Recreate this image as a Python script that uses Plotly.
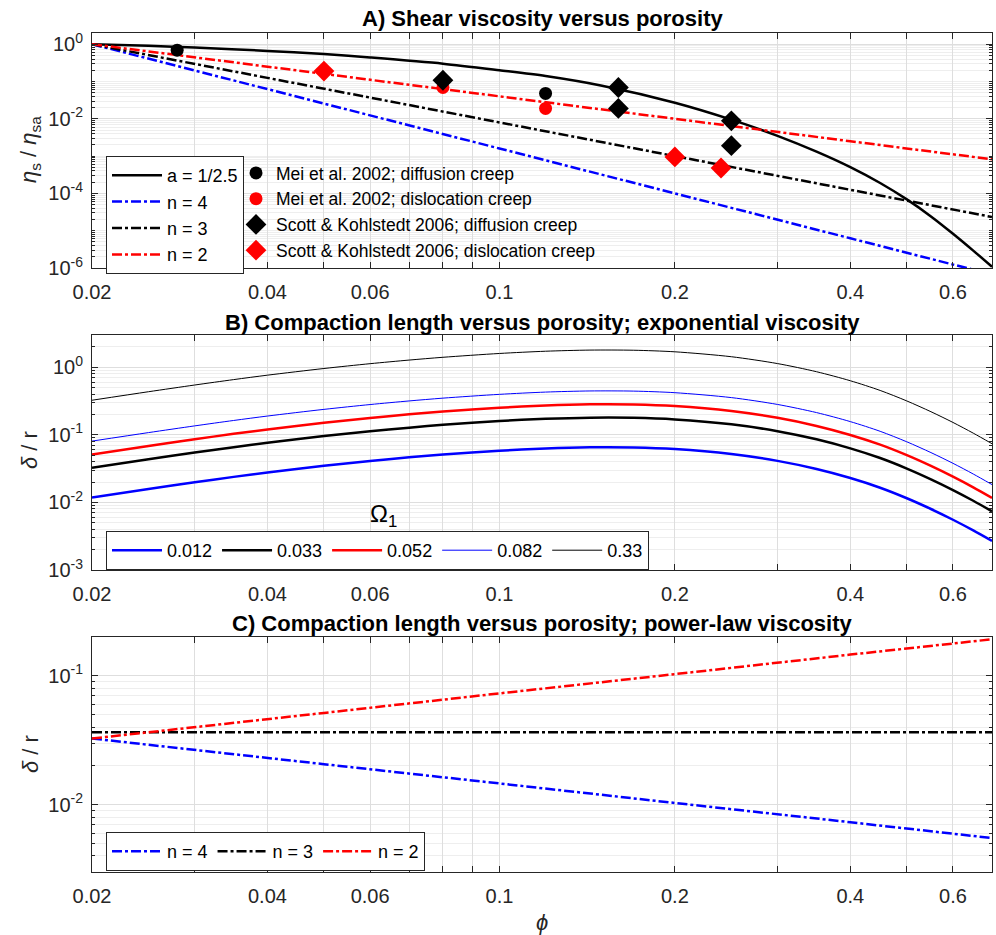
import math
import plotly.graph_objects as go

# ---------------- data ----------------
# Panel A: shear viscosity versus porosity
phi_exp = [0.02, 0.025, 0.03, 0.04, 0.05, 0.06, 0.08, 0.1, 0.12, 0.15, 0.2, 0.25,
           0.3, 0.35, 0.4, 0.45, 0.5, 0.55, 0.6, 0.65, 0.7]
eta_exp = [1.0, 0.905, 0.815, 0.66, 0.545, 0.44, 0.30, 0.20, 0.14, 0.077, 0.027, 0.0095,
           0.0035, 0.00132, 0.000506, 0.00019, 0.000069, 0.0000242, 0.0000083, 0.00000293,
           0.00000108]
phi_pow = [0.02, 0.04, 0.1, 0.2, 0.4, 0.7]
eta_n4 = [1.0, 0.0625, 0.0016, 0.0001, 0.00000625, 0.00000067]
eta_n3 = [1.0, 0.125, 0.008, 0.001, 0.000125, 0.0000233]
eta_n2 = [1.0, 0.25, 0.04, 0.01, 0.0025, 0.00082]

mei_diff_phi = [0.028, 0.12]
mei_diff_eta = [0.69, 0.048]
mei_disl_phi = [0.08, 0.12]
mei_disl_eta = [0.069, 0.019]
sk_diff_phi = [0.08, 0.16, 0.16, 0.25, 0.25]
sk_diff_eta = [0.108, 0.069, 0.019, 0.0088, 0.0019]
sk_disl_phi = [0.05, 0.2, 0.24]
sk_disl_eta = [0.19, 0.00095, 0.00048]

# Panel B: compaction length, exponential viscosity
phi_b = [0.02, 0.025, 0.03, 0.035, 0.04, 0.05, 0.06, 0.07, 0.08, 0.1, 0.12, 0.143,
         0.17, 0.2, 0.25, 0.3, 0.35, 0.4, 0.45, 0.5, 0.55, 0.6, 0.65, 0.7]
d_0012 = [0.01182, 0.01579, 0.01985, 0.02387, 0.02776, 0.03485, 0.04106, 0.04644, 0.05107,
          0.05813, 0.06277, 0.06524, 0.0649, 0.06151, 0.05202, 0.0412, 0.03122, 0.02296,
          0.0165, 0.01153, 0.00799, 0.00554, 0.00385, 0.00269]
d_0033 = [0.0325, 0.04343, 0.05458, 0.06564, 0.07633, 0.09583, 0.1129, 0.1277, 0.1404,
          0.1599, 0.1726, 0.1794, 0.1785, 0.1692, 0.1431, 0.1133, 0.08587, 0.06313,
          0.04538, 0.03171, 0.02198, 0.01525, 0.01059, 0.00739]
d_0052 = [0.05122, 0.06843, 0.08601, 0.1034, 0.1203, 0.151, 0.1779, 0.2012, 0.2213,
          0.2519, 0.272, 0.2827, 0.2812, 0.2666, 0.2254, 0.1785, 0.1353, 0.09948,
          0.0715, 0.04997, 0.03463, 0.02402, 0.01669, 0.01165]
d_0082 = [0.08077, 0.1079, 0.1356, 0.1631, 0.1897, 0.2381, 0.2806, 0.3173, 0.349,
          0.3972, 0.4289, 0.4458, 0.4435, 0.4203, 0.3555, 0.2815, 0.2134, 0.1569,
          0.1128, 0.0788, 0.05461, 0.03788, 0.02632, 0.01837]
d_033 = [0.325, 0.4343, 0.5458, 0.6564, 0.7633, 0.9583, 1.129, 1.277, 1.404,
         1.599, 1.726, 1.794, 1.785, 1.692, 1.431, 1.133, 0.8587, 0.6313,
         0.4538, 0.3171, 0.2198, 0.1525, 0.1059, 0.0739]

# Panel C: compaction length, power-law viscosity
phi_c = [0.02, 0.05, 0.1, 0.2, 0.4, 0.7]
c_n4 = [0.0326, 0.0206, 0.0146, 0.0103, 0.0073, 0.0055]
c_n3 = [0.0365, 0.0365, 0.0365, 0.0365, 0.0365, 0.0365]
c_n2 = [0.0326, 0.0515, 0.073, 0.103, 0.146, 0.192]

x_tickvals = [0.02, 0.03, 0.04, 0.05, 0.06, 0.07, 0.08, 0.09, 0.1, 0.2, 0.3, 0.4, 0.5, 0.6]
x_ticktext = ["0.02", "", "0.04", "", "0.06", "", "", "", "0.1", "0.2", "", "0.4", "", "0.6"]

# ---------------- figure ----------------
W, H = 996, 935
FONT = "Liberation Sans, Arial, Helvetica, sans-serif"
AX = "#262626"
GRID = "#dedede"
MGRID = "#eeeeee"
DASHDOT = "10px,3px,3px,3px"

fig = go.Figure()

def line(x, y, color, width, dash, name, xa, ya, legend, smooth=0.8):
    shape = "spline" if smooth > 0 else "linear"
    fig.add_trace(go.Scatter(x=x, y=y, mode="lines", name=name,
                             line=dict(color=color, width=width, dash=dash, shape=shape,
                                       smoothing=smooth if smooth > 0 else None,
                                       simplify=False),
                             xaxis=xa, yaxis=ya, legend=legend))

# Panel A
line(phi_exp, eta_exp, "black", 2.5, "solid", "a = 1/2.5", "x", "y", "legend")
line(phi_pow, eta_n4, "#0000ff", 2.5, DASHDOT, "n = 4", "x", "y", "legend", 0)
line(phi_pow, eta_n3, "black", 2.5, DASHDOT, "n = 3", "x", "y", "legend", 0)
line(phi_pow, eta_n2, "#ff0000", 2.5, DASHDOT, "n = 2", "x", "y", "legend", 0)

def pts(x, y, color, symbol, size, name):
    fig.add_trace(go.Scatter(x=x, y=y, mode="markers", name=name,
                             marker=dict(color=color, symbol=symbol, size=size, line=dict(width=0)),
                             xaxis="x", yaxis="y", legend="legend2"))

pts(mei_diff_phi, mei_diff_eta, "black", "circle", 13, "Mei et al. 2002; diffusion creep")
pts(mei_disl_phi, mei_disl_eta, "#ff0000", "circle", 13, "Mei et al. 2002; dislocation creep")
pts(sk_diff_phi, sk_diff_eta, "black", "diamond", 16, "Scott &amp; Kohlstedt 2006; diffusion creep")
pts(sk_disl_phi, sk_disl_eta, "#ff0000", "diamond", 16, "Scott &amp; Kohlstedt 2006; dislocation creep")

# Panel B
line(phi_b, d_0012, "#0000ff", 2.5, "solid", "0.012", "x2", "y2", "legend3")
line(phi_b, d_0033, "black", 2.5, "solid", "0.033", "x2", "y2", "legend3")
line(phi_b, d_0052, "#ff0000", 2.5, "solid", "0.052", "x2", "y2", "legend3")
line(phi_b, d_0082, "#0000ff", 1, "solid", "0.082", "x2", "y2", "legend3")
line(phi_b, d_033, "black", 1, "solid", "0.33", "x2", "y2", "legend3")

# Panel C
line(phi_c, c_n4, "#0000ff", 2.5, DASHDOT, "n = 4", "x3", "y3", "legend4", 0)
line(phi_c, c_n3, "black", 2.5, DASHDOT, "n = 3", "x3", "y3", "legend4", 0)
line(phi_c, c_n2, "#ff0000", 2.5, DASHDOT, "n = 2", "x3", "y3", "legend4", 0)

def px_x(p):
    return p / W

def px_y(p):
    return 1 - p / H

XL, XR = 92, 992
panels = {"A": (33, 268), "B": (335, 570), "C": (637, 872)}

def sup(k):
    return "10<sup>%d</sup>" % k

def minor_vals(lo, hi, skip_majors):
    vals = []
    for k in range(lo, hi + 1):
        for m in range(1, 10):
            if m == 1 and k in skip_majors:
                continue
            vals.append(m * 10.0 ** k)
    return vals

xcommon = dict(type="log", range=[math.log10(0.02), math.log10(0.7)], automargin=False,
               tickmode="array", tickvals=x_tickvals, ticktext=x_ticktext,
               ticks="inside", ticklen=6, tickcolor=AX, showline=True, linecolor=AX,
               linewidth=1, mirror="ticks", showgrid=True, gridcolor=GRID, gridwidth=1,
               zeroline=False, ticklabelstandoff=6,
               tickfont=dict(family=FONT, size=20, color=AX))
ycommon = dict(type="log", ticks="inside", ticklen=6, tickcolor=AX, showline=True,
               linecolor=AX, linewidth=1, mirror="ticks", showgrid=True, gridcolor=GRID,
               zeroline=False, tickmode="array", automargin=False, ticklabelstandoff=4,
               tickfont=dict(family=FONT, size=20, color=AX))

ymaj_a = [-6, -4, -2, 0]
ymaj_b = [-3, -2, -1, 0]
ymaj_c = [-2, -1]

def ydom(key):
    t, b = panels[key]
    return [px_y(b), px_y(t)]

def minor(lo, hi, skip):
    return dict(tickmode="array", tickvals=minor_vals(lo, hi, skip), ticks="inside",
                ticklen=3, tickcolor=AX, showgrid=True, gridcolor=MGRID)

leg_font = dict(family=FONT, size=18, color="black")

fig.update_layout(
    width=W, height=H, margin=dict(l=0, r=0, t=0, b=0, autoexpand=False),
    paper_bgcolor="white", plot_bgcolor="white",
    font=dict(family=FONT, color=AX),
    xaxis=dict(xcommon, domain=[px_x(XL), px_x(XR)], anchor="y"),
    xaxis2=dict(xcommon, domain=[px_x(XL), px_x(XR)], anchor="y2"),
    xaxis3=dict(xcommon, domain=[px_x(XL), px_x(XR)], anchor="y3"),
    yaxis=dict(ycommon, domain=ydom("A"), anchor="x", range=[-6, 0.3],
               tickvals=[10.0 ** k for k in ymaj_a], ticktext=[sup(k) for k in ymaj_a],
               minor=minor(-6, 0, ymaj_a)),
    yaxis2=dict(ycommon, domain=ydom("B"), anchor="x2", range=[-3, math.log10(3)],
                tickvals=[10.0 ** k for k in ymaj_b], ticktext=[sup(k) for k in ymaj_b],
                minor=minor(-3, 0, ymaj_b)),
    yaxis3=dict(ycommon, domain=ydom("C"), anchor="x3",
                range=[math.log10(0.003), math.log10(0.2)],
                tickvals=[10.0 ** k for k in ymaj_c], ticktext=[sup(k) for k in ymaj_c],
                minor=minor(-3, -1, ymaj_c)),
    legend=dict(x=px_x(106), y=px_y(156), xanchor="left", yanchor="top",
                bgcolor="white", bordercolor=AX, borderwidth=1, itemwidth=50,
                font=leg_font, tracegroupgap=0),
    legend2=dict(x=px_x(236), y=px_y(155), xanchor="left", yanchor="top",
                 bgcolor="rgba(0,0,0,0)", borderwidth=0, itemwidth=30,
                 font=dict(family=FONT, size=17.5, color="black")),
    legend3=dict(x=px_x(106), y=px_y(531), xanchor="left", yanchor="top", orientation="h",
                 bgcolor="white", bordercolor=AX, borderwidth=1, itemwidth=50,
                 font=leg_font),
    legend4=dict(x=px_x(106), y=px_y(832), xanchor="left", yanchor="top", orientation="h",
                 bgcolor="white", bordercolor=AX, borderwidth=1, itemwidth=50,
                 font=leg_font),
)

ann = []
titles = [("A) Shear viscosity versus porosity", 19),
          ("B) Compaction length versus porosity; exponential viscosity", 322),
          ("C) Compaction length versus porosity; power-law viscosity", 623)]
for txt, yp in titles:
    ann.append(dict(text="<b>%s</b>" % txt, x=px_x((XL + XR) / 2), y=px_y(yp), xref="paper",
                    yref="paper", showarrow=False, xanchor="center", yanchor="middle",
                    font=dict(family=FONT, size=22, color="black")))
ylabels = [("<i>η</i><sub>s</sub> / <i>η</i><sub>sa</sub>", 150),
           ("<i>δ</i> / r", 450), ("<i>δ</i> / r", 754)]
for txt, yp in ylabels:
    ann.append(dict(text=txt, x=px_x(30), y=px_y(yp), xref="paper", yref="paper",
                    showarrow=False, textangle=-90, xanchor="center", yanchor="middle",
                    font=dict(family=FONT, size=22, color=AX)))
ann.append(dict(text="Ω<sub>1</sub>", x=px_x(383), y=px_y(515), xref="paper", yref="paper",
                showarrow=False, xanchor="center", yanchor="middle",
                font=dict(family=FONT, size=24, color="black")))
ann.append(dict(text="<i>ϕ</i>", x=px_x(542), y=px_y(922), xref="paper", yref="paper",
                showarrow=False, xanchor="center", yanchor="middle",
                font=dict(family=FONT, size=22, color=AX)))
fig.update_layout(annotations=ann)

fig.write_html("out.html")
